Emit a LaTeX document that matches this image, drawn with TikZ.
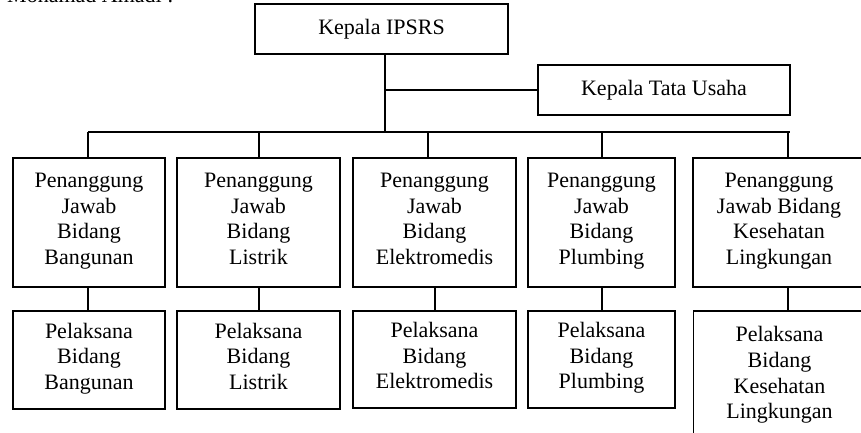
\documentclass[tikz,border=0pt]{standalone}
\usepackage{fontspec}
\setmainfont{Liberation Serif}
\begin{document}
\begin{tikzpicture}[x=1pt,y=-1pt,
  box/.style={draw, line width=1.7pt, inner sep=0pt, align=center,
    font=\fontsize{22}{25.7}\selectfont, minimum height=#1,
    execute at begin node=\strut, execute at end node=\strut},
  box/.default=50pt,
  conn/.style={line width=1.5pt},
  txt/.style={inner sep=0pt, font=\fontsize{22}{25.7}\selectfont}]
\useasboundingbox (0,0) rectangle (861,432);
\node[txt, anchor=base west] (title) at (7,2) {Mohamad Amadi :};
% top level
\node[box, minimum width=253pt] (top) at (381.5,29) {Kepala IPSRS};
\node[box, minimum width=252pt] (tata) at (664,90) {Kepala Tata Usaha};
% column x positions
\coordinate (x1) at (88,0);
\coordinate (x2) at (259,0);
\coordinate (x3) at (428,0);
\coordinate (x3b) at (435,0);
\coordinate (x4) at (602,0);
\coordinate (x5) at (788,0);
\coordinate (xm) at (385,0);
% upper row
\node[box=129pt, minimum width=152pt] (u1) at (89,222.5) {Penanggung\\Jawab\\Bidang\\Bangunan};
\node[box=129pt, minimum width=163pt] (u2) at (258.5,222.5) {Penanggung\\Jawab\\Bidang\\Listrik};
\node[box=129pt, minimum width=163pt] (u3) at (434.5,222.5) {Penanggung\\Jawab\\Bidang\\Elektromedis};
\node[box=129pt, minimum width=147pt] (u4) at (601.5,222.5) {Penanggung\\Jawab\\Bidang\\Plumbing};
\node[box=129pt, minimum width=172pt] (u5) at (779,222.5) {Penanggung\\Jawab Bidang\\Kesehatan\\Lingkungan};
% lower row
\node[box=98pt, minimum width=152pt] (l1) at (89,360) {Pelaksana\\Bidang\\Bangunan};
\node[box=98pt, minimum width=163pt] (l2) at (258.5,360) {Pelaksana\\Bidang\\Listrik};
\node[box=97pt, minimum width=163pt] (l3) at (434.5,359.5) {Pelaksana\\Bidang\\Elektromedis};
\node[box=97pt, minimum width=147pt] (l4) at (601.5,359.5) {Pelaksana\\Bidang\\Plumbing};
\node[box=131pt, minimum width=172pt] (l5) at (779.5,376.5) {Pelaksana\\Bidang\\Kesehatan\\Lingkungan};
% connectors
\coordinate (bus) at (385,132);
\coordinate (busL) at (88,132);
\coordinate (busR) at (790,132);
\coordinate (junc) at (385,90);
\draw[conn] (xm |- top.south) -- (bus);
\draw[conn] (junc) -- (tata.west);
\draw[conn] (busL) -- (busR);
\draw[conn] (x1 |- bus) -- (x1 |- u1.north);
\draw[conn] (x2 |- bus) -- (x2 |- u2.north);
\draw[conn] (x3 |- bus) -- (x3 |- u3.north);
\draw[conn] (x4 |- bus) -- (x4 |- u4.north);
\draw[conn] (x5 |- bus) -- (x5 |- u5.north);
\draw[conn] (x1 |- u1.south) -- (x1 |- l1.north);
\draw[conn] (x2 |- u2.south) -- (x2 |- l2.north);
\draw[conn] (x3b |- u3.south) -- (x3b |- l3.north);
\draw[conn] (x4 |- u4.south) -- (x4 |- l4.north);
\draw[conn] (x5 |- u5.south) -- (x5 |- l5.north);
\end{tikzpicture}
\end{document}
